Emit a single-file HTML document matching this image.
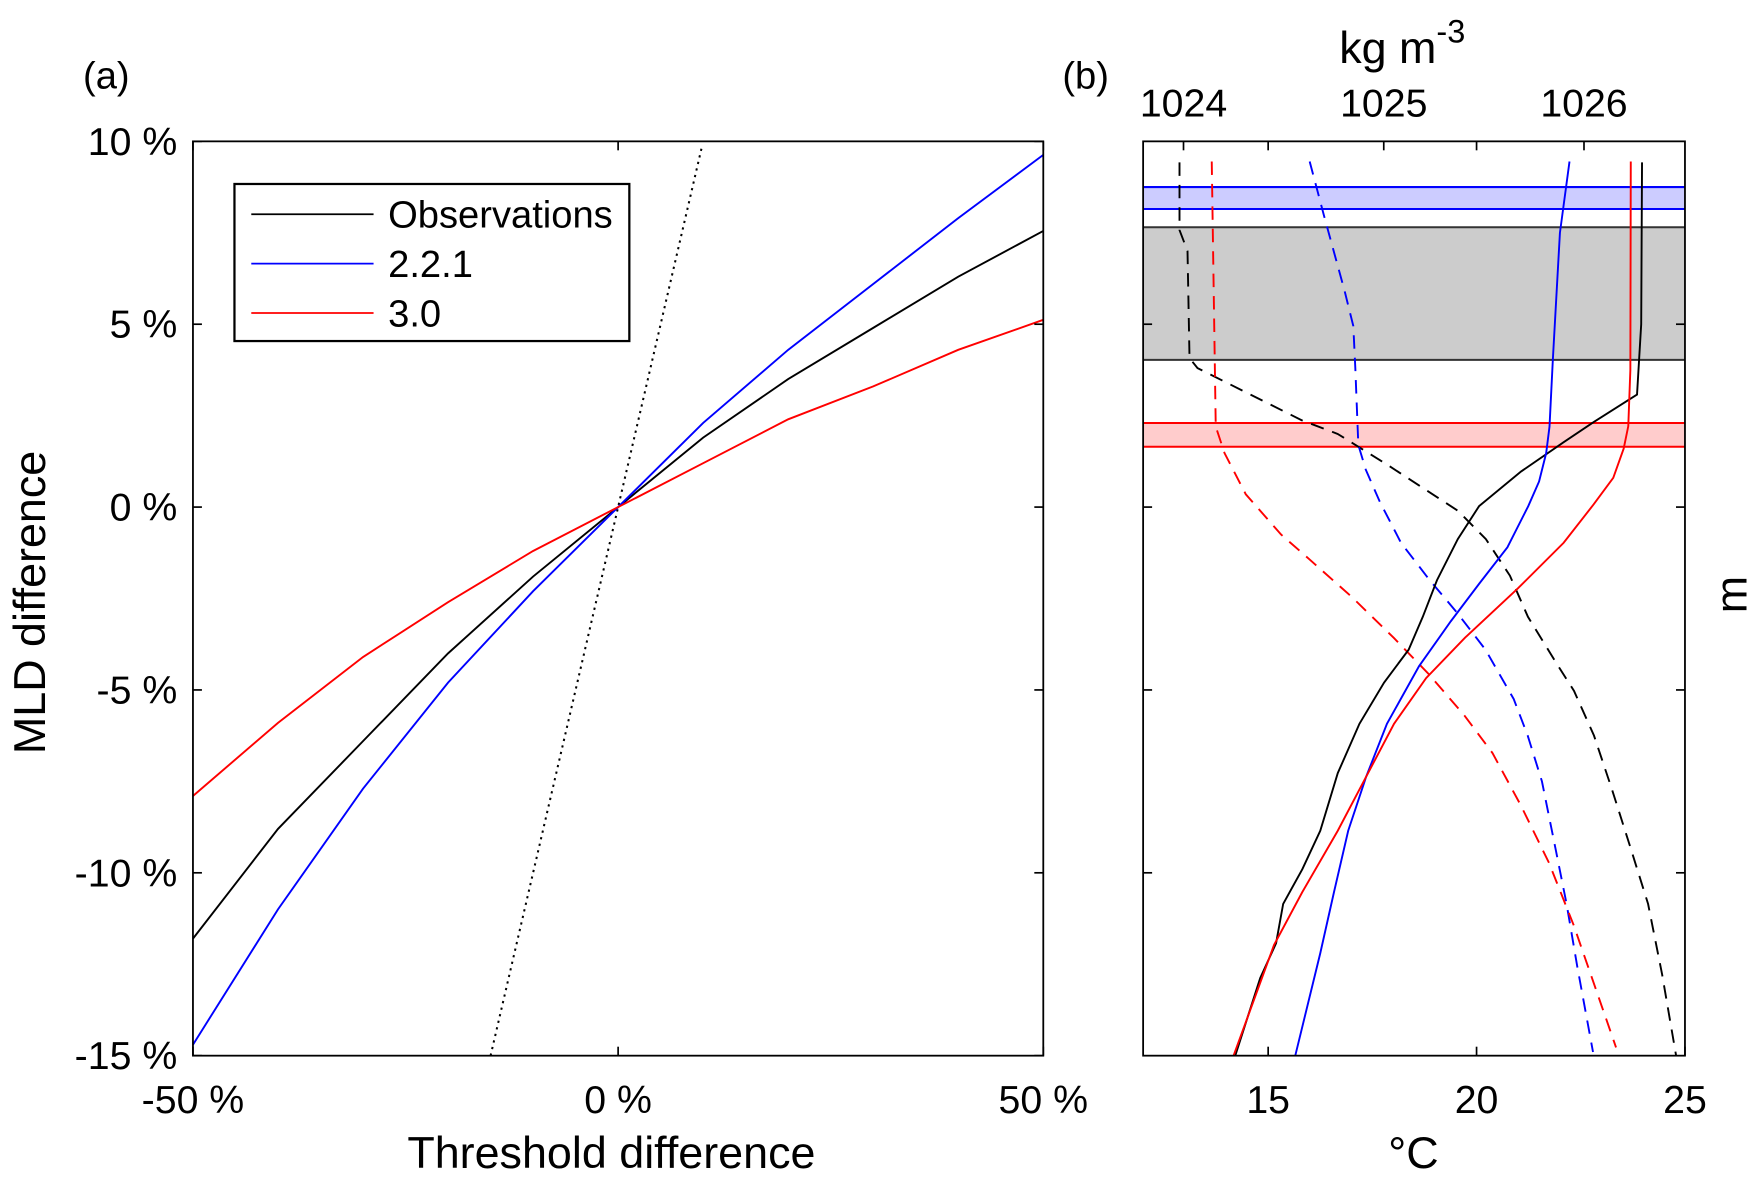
<!DOCTYPE html>
<html><head><meta charset="utf-8"><style>
html,body{margin:0;padding:0;background:#fff}
svg{display:block}
text{font-family:"Liberation Sans",Arial,sans-serif;fill:#000}
</style></head><body>
<svg id="chart" width="1759" height="1183" viewBox="0 0 1568 1054.5" preserveAspectRatio="none" xmlns="http://www.w3.org/2000/svg">
<g id="pa"></g>
<g id="pb"></g>
<text x="74" y="79" font-size="34">(a)</text>
<text x="947" y="79" font-size="34">(b)</text>
<text x="545" y="1041" font-size="40" text-anchor="middle">Threshold difference</text>
<text transform="translate(40,537) rotate(-90)" font-size="40" text-anchor="middle">MLD difference</text>
<text x="1250" y="56" font-size="40" text-anchor="middle">kg m<tspan font-size="29" dy="-18">-3</tspan></text>
<text x="1260" y="1041" font-size="40" text-anchor="middle">°C</text>
<text transform="translate(1557,530) rotate(-90)" font-size="40" text-anchor="middle">m</text>
<g>
<rect x="209" y="164" width="352" height="140" fill="#fff" stroke="#000" stroke-width="2"/>
<line x1="224" y1="191" x2="333" y2="191" stroke="#000" stroke-width="1.6"/>
<text x="346" y="203" font-size="34">Observations</text>
<line x1="224" y1="235" x2="333" y2="235" stroke="#00f" stroke-width="1.6"/>
<text x="346" y="247" font-size="34">2.2.1</text>
<line x1="224" y1="279" x2="333" y2="279" stroke="#f00" stroke-width="1.6"/>
<text x="346" y="291" font-size="34">3.0</text>
</g>
</svg>
<script>
// ---- Panel (a) data ----
const thresholdX = [-50,-40,-30,-20,-10,0,10,20,30,40,50];
const obsMLD = [-11.8,-8.8,-6.4,-4.0,-1.9,0,1.9,3.5,4.9,6.3,7.55];
const v221MLD = [-14.7,-11.0,-7.7,-4.8,-2.3,0,2.3,4.3,6.1,7.9,9.63];
const v30MLD = [-7.9,-5.9,-4.1,-2.6,-1.2,0,1.2,2.4,3.3,4.3,5.12];
const oneToOneX = [-15,9.85];
const aXTicks = [-50,0,50];
const aXTickLabels = ['-50 %','0 %','50 %'];
const aYTicks = [10,5,0,-5,-10,-15];
const aYTickLabels = ['10 %','5 %','0 %','-5 %','-10 %','-15 %'];

// ---- Panel (b) data ----
const tempTicks = [15,20,25];
const tempTickLabels = ['15','20','25'];
const densTicks = [1024,1025,1026];
const densTickLabels = ['1024','1025','1026'];
const depthTicks = [20,40,60,80];
const obsTempDepth = [2.3,20,27.7,30.7,32.9,36.1,39.9,43.5,48.0,52.0,55.6,59.2,63.7,69.1,75.4,79.6,83.4,87.7,91.5,100];
const obsTemp = [23.97,23.95,23.85,22.81,22.09,21.07,20.06,19.55,19.05,18.71,18.37,17.78,17.19,16.67,16.25,15.82,15.36,15.19,14.81,14.21];
const v221TempDepth = [2.2,10,23.9,31.2,34.1,37.2,39.9,44.4,48.4,52.5,57.4,63.7,69.5,75.4,82.1,88.8,100];
const v221Temp = [22.23,22.0,21.83,21.75,21.67,21.50,21.24,20.74,20.06,19.38,18.62,17.85,17.35,16.92,16.58,16.25,15.65];
const v30TempDepth = [2.2,25,31.15,33.6,36.8,39.7,43.9,48.9,54.3,58.7,63.7,69.5,75.4,82.1,87.9,100];
const v30Temp = [23.70,23.69,23.64,23.53,23.28,22.81,22.09,20.99,19.72,18.79,18.02,17.35,16.67,15.82,15.14,14.17];
const obsDensDepth = [2.3,9.7,12,23.7,24.8,30.5,32.0,35.4,40.4,43.5,47.5,52.0,57.0,60.1,65.0,70.9,77.1,83.4,91.1,100];
const obsDens = [1023.98,1023.98,1024.02,1024.03,1024.07,1024.59,1024.77,1025.02,1025.37,1025.51,1025.63,1025.72,1025.86,1025.95,1026.05,1026.14,1026.23,1026.32,1026.39,1026.46];
const v221DensDepth = [2.2,8.0,16.4,20.2,24.8,33.2,35.9,39.4,43.9,47.9,51.6,55.6,61.0,65.0,70.0,77.6,83.4,90.2,99.6];
const v221Dens = [1024.63,1024.70,1024.805,1024.848,1024.858,1024.873,1024.91,1024.98,1025.086,1025.226,1025.368,1025.508,1025.649,1025.719,1025.79,1025.86,1025.913,1025.966,1026.045];
const v30DensDepth = [2.2,31.2,34.1,38.6,43.0,45.7,49.8,54.3,58.3,62.8,66.9,72.6,78.9,85.7,92.4,99.1];
const v30Dens = [1024.141,1024.161,1024.205,1024.311,1024.487,1024.628,1024.839,1025.05,1025.226,1025.403,1025.543,1025.684,1025.825,1025.948,1026.054,1026.16];
const mldBandObs = [9.4,23.9];
const mldBand221 = [5.0,7.4];
const mldBand30 = [30.8,33.4];

const NS='http://www.w3.org/2000/svg';
function mk(parent,tag,attrs,txt){const e=document.createElementNS(NS,tag);for(const k in attrs)e.setAttribute(k,attrs[k]);if(txt!==undefined)e.textContent=txt;parent.appendChild(e);return e;}

const aL=172,aR=930,aT=126,aB=941;
const ax=v=>aL+(v+50)/100*(aR-aL);
const ay=v=>aB-(v+15)/25*(aB-aT);
const pa=document.getElementById('pa');
function seriesA(xs,ys,color,name){
  const d=xs.map((x,i)=>(i?'L':'M')+ax(x).toFixed(2)+','+ay(ys[i]).toFixed(2)).join('');
  const p=mk(pa,'path',{d:d,fill:'none',stroke:color,'stroke-width':1.7});
  
  
}
seriesA(oneToOneX,oneToOneX,'#000','one-to-one-line');
pa.lastChild.setAttribute('stroke-dasharray','2 4');
pa.lastChild.setAttribute('stroke-width','1.8');
seriesA(thresholdX,obsMLD,'#000','observations-line');
seriesA(thresholdX,v221MLD,'#00f','v221-line');
seriesA(thresholdX,v30MLD,'#f00','v30-line');
const fa=mk(pa,'rect',{x:aL,y:aT,width:aR-aL,height:aB-aT,fill:'none',stroke:'#000','stroke-width':1.6});


aYTicks.forEach((v,i)=>{
  const y=ay(v);
  mk(pa,'line',{x1:aL,y1:y,x2:aL+8,y2:y,stroke:'#000','stroke-width':1.5});
  mk(pa,'line',{x1:aR,y1:y,x2:aR-8,y2:y,stroke:'#000','stroke-width':1.5});
  const t=mk(pa,'text',{x:158,y:y+12,'font-size':35,'text-anchor':'end'},aYTickLabels[i]);
  
  
});
aXTicks.forEach((v,i)=>{
  const x=ax(v);
  mk(pa,'line',{x1:x,y1:aB,x2:x,y2:aB-8,stroke:'#000','stroke-width':1.5});
  mk(pa,'line',{x1:x,y1:aT,x2:x,y2:aT+8,stroke:'#000','stroke-width':1.5});
  const t=mk(pa,'text',{x:x,y:992,'font-size':35,'text-anchor':'middle'},aXTickLabels[i]);
  
  
});

const bL=1019,bR=1502,bT=126,bB=941;
const bxT=v=>bL+(v-12)/13*(bR-bL);
const bxD=v=>1055+(v-1024)*178.5;
const by=v=>bT+v*8.15;
const pb=document.getElementById('pb');
function band(r,fill,stroke,name){
  const g=mk(pb,'rect',{x:bL,y:by(r[0]),width:bR-bL,height:by(r[1])-by(r[0]),fill:fill});
  
  
  mk(pb,'line',{x1:bL,y1:by(r[0]),x2:bR,y2:by(r[0]),stroke:stroke,'stroke-width':1.8});
  mk(pb,'line',{x1:bL,y1:by(r[1]),x2:bR,y2:by(r[1]),stroke:stroke,'stroke-width':1.8});
}
band(mldBand221,'#ccccff','#00f','mld-band-v221');
band(mldBandObs,'#cccccc','#333','mld-band-observations');
band(mldBand30,'#ffcccc','#f00','mld-band-v30');
function seriesB(vals,depths,xf,color,dashed,name){
  const d=vals.map((v,i)=>(i?'L':'M')+xf(v).toFixed(2)+','+by(depths[i]).toFixed(2)).join('');
  const p=mk(pb,'path',{d:d,fill:'none',stroke:color,'stroke-width':1.7});
  if(dashed)p.setAttribute('stroke-dasharray','12 8');
  
  
}
seriesB(obsDens,obsDensDepth,bxD,'#000',true,'observations-density');
seriesB(v221Dens,v221DensDepth,bxD,'#00f',true,'v221-density');
seriesB(v30Dens,v30DensDepth,bxD,'#f00',true,'v30-density');
seriesB(obsTemp,obsTempDepth,bxT,'#000',false,'observations-temperature');
seriesB(v221Temp,v221TempDepth,bxT,'#00f',false,'v221-temperature');
seriesB(v30Temp,v30TempDepth,bxT,'#f00',false,'v30-temperature');
const fb=mk(pb,'rect',{x:bL,y:bT,width:bR-bL,height:bB-bT,fill:'none',stroke:'#000','stroke-width':1.6});


depthTicks.forEach(v=>{
  const y=by(v);
  mk(pb,'line',{x1:bL,y1:y,x2:bL+8,y2:y,stroke:'#000','stroke-width':1.5});
  mk(pb,'line',{x1:bR,y1:y,x2:bR-8,y2:y,stroke:'#000','stroke-width':1.5});
});
tempTicks.forEach((v,i)=>{
  const x=bxT(v);
  mk(pb,'line',{x1:x,y1:bB,x2:x,y2:bB-8,stroke:'#000','stroke-width':1.5});
  if(v<25)mk(pb,'line',{x1:x,y1:bT,x2:x,y2:bT+8,stroke:'#000','stroke-width':1.5});
  const t=mk(pb,'text',{x:x,y:992,'font-size':35,'text-anchor':'middle'},tempTickLabels[i]);
  
  
});
densTicks.forEach((v,i)=>{
  const x=bxD(v);
  mk(pb,'line',{x1:x,y1:bT,x2:x,y2:bT+8,stroke:'#000','stroke-width':1.5});
  const t=mk(pb,'text',{x:x,y:104,'font-size':35,'text-anchor':'middle'},densTickLabels[i]);
  
  
});
</script>
</body></html>
